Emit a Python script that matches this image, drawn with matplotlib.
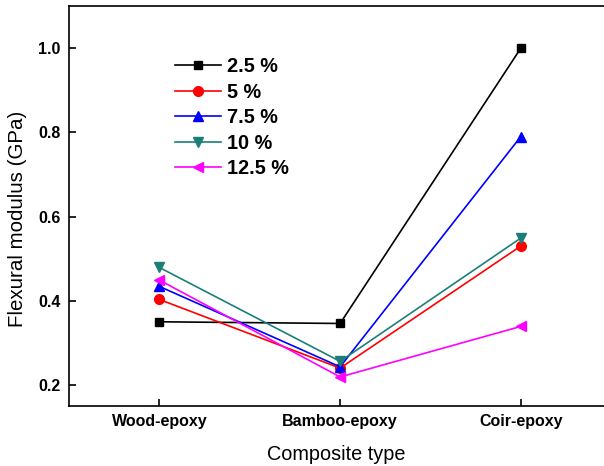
import numpy as np
import matplotlib
matplotlib.use("Agg")
import matplotlib.pyplot as plt

plt.rcParams['font.family'] = ['Liberation Sans', 'DejaVu Sans']

# Data
composites = ["Wood-epoxy", "Bamboo-epoxy", "Coir-epoxy"]
series_labels = ["2.5 %", "5 %", "7.5 %", "10 %", "12.5 %"]
modulus_25 = [0.350, 0.346, 1.000]
modulus_5 = [0.403, 0.240, 0.530]
modulus_75 = [0.434, 0.243, 0.790]
modulus_10 = [0.479, 0.256, 0.549]
modulus_125 = [0.449, 0.219, 0.339]

series = [modulus_25, modulus_5, modulus_75, modulus_10, modulus_125]
colors = ["black", "#ff0000", "#0000ff", "#1b7f78", "#ff00ff"]
markers = ["s", "o", "^", "v", "<"]
msizes = [6, 7, 7.5, 7.5, 7.5]

fig = plt.figure(figsize=(6.04, 4.66), dpi=100)
ax = fig.add_axes([69 / 604, 60 / 466, 535 / 604, 400 / 466])

x = np.arange(1, len(composites) + 1)
for vals, lab, c, m, ms in zip(series, series_labels, colors, markers, msizes):
    ax.plot(x, vals, color=c, marker=m, markersize=ms, linewidth=1.2,
            label=lab)

ax.set_xlim(0.5, 3.46)
ax.set_ylim(0.15, 1.1)
ax.set_xticks(x)
ax.set_xticklabels(composites)
ax.set_yticks([0.2, 0.4, 0.6, 0.8, 1.0])
ax.set_yticklabels(["0.2", "0.4", "0.6", "0.8", "1.0"])

ax.tick_params(direction="in", length=5, width=1.2, labelsize=11.5, pad=6)
for lbl in ax.get_xticklabels() + ax.get_yticklabels():
    lbl.set_fontweight("bold")

ax.spines["right"].set_visible(False)
for s in ["left", "bottom", "top"]:
    ax.spines[s].set_linewidth(1.2)

ax.set_xlabel("Composite type", fontsize=14.3, labelpad=11)
ax.set_ylabel("Flexural modulus (GPa)", fontsize=14.8)
ax.yaxis.set_label_coords(-0.078, 0.467)

leg = ax.legend(loc="upper left", bbox_to_anchor=(175 / 604, 1 - 57 / 466),
                bbox_transform=fig.transFigure, frameon=False,
                borderpad=0, borderaxespad=0, handlelength=2.3,
                handletextpad=0.3, labelspacing=0.33,
                prop={"size": 14.3, "weight": "bold"})

fig.savefig("out.png", dpi=100)
